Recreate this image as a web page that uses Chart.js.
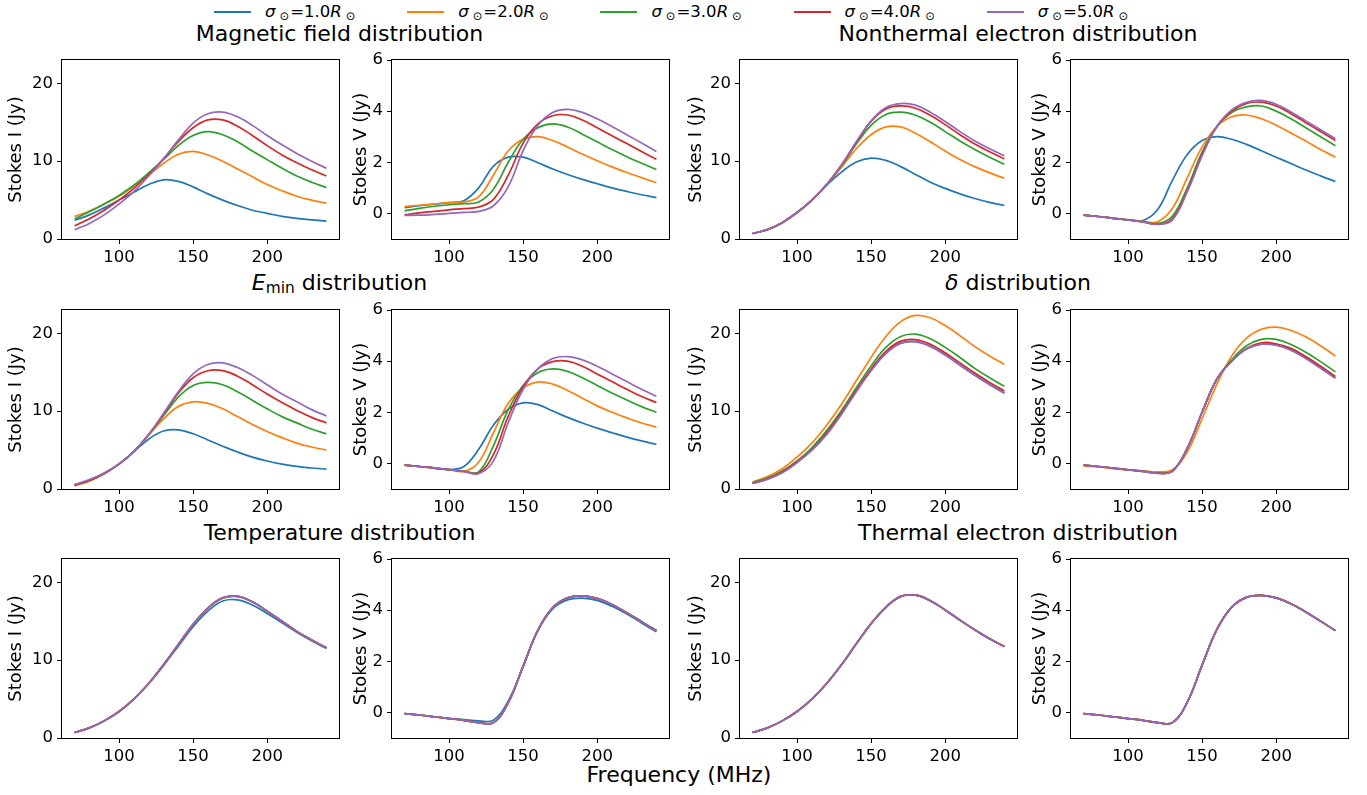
<!DOCTYPE html>
<html>
<head>
<meta charset="utf-8">
<script src="https://cdn.jsdelivr.net/npm/chart.js@4"></script>
<style>
html,body{margin:0;padding:0;background:#fff;}
body{width:1367px;height:795px;position:relative;overflow:hidden;font-family:"DejaVu Sans",sans-serif;color:#000;}
canvas{position:absolute;pointer-events:none;}
.txt{position:absolute;white-space:nowrap;line-height:1;color:#000;}
.ttl{font-size:22px;width:700px;text-align:center;}
.ttl sub{font-size:70%;vertical-align:-0.22em;line-height:0;}
.leg{font-size:16.5px;}
.leg sub{font-size:70%;vertical-align:-0.25em;line-height:0;margin:0 1px 0 4px;}
.legline{position:absolute;height:2px;width:37px;}
</style>
</head>
<body>
<script>
// ---------- data ----------
const freq = [70,80,90,100,110,120,130,140,150,160,170,180,190,200,210,220,230,240];
const sigmaLabels = ['1.0','2.0','3.0','4.0','5.0'];
const seriesColors = ['#1f77b4','#ff7f0e','#2ca02c','#d62728','#9467bd'];
const xTickValues = [100,150,200];
const iTickValues = [0,10,20];
const vTickValues = [0,2,4,6];

// Magnetic field distribution
const magneticI = [
  [2.4,3.1,4.0,5.0,6.0,7.0,7.6,7.4,6.7,5.8,5.0,4.3,3.7,3.3,2.9,2.65,2.45,2.3],
  [2.9,3.6,4.5,5.5,6.8,8.2,9.7,10.9,11.25,10.8,10.0,9.0,8.0,7.0,6.2,5.5,5.0,4.6],
  [2.6,3.5,4.5,5.6,6.9,8.5,10.2,12.0,13.3,13.8,13.4,12.5,11.3,10.2,9.1,8.1,7.3,6.6],
  [1.7,2.6,3.7,5.0,6.5,8.3,10.3,12.5,14.3,15.3,15.3,14.5,13.3,12.0,10.8,9.8,8.9,8.1],
  [1.2,2.0,3.1,4.5,6.1,8.1,10.3,12.7,14.9,16.1,16.3,15.7,14.6,13.3,12.1,11.0,10.0,9.1]
];
const magneticV = [
  [0.23,0.3,0.36,0.42,0.5,1.0,1.85,2.2,2.2,1.98,1.74,1.52,1.33,1.16,1.0,0.86,0.73,0.62],
  [0.27,0.32,0.37,0.42,0.45,0.65,1.5,2.45,2.9,3.0,2.85,2.6,2.32,2.06,1.82,1.6,1.4,1.2],
  [0.1,0.2,0.28,0.34,0.38,0.45,0.95,2.0,2.9,3.35,3.5,3.38,3.1,2.8,2.5,2.22,1.96,1.72],
  [-0.05,0.02,0.08,0.14,0.19,0.25,0.55,1.5,2.75,3.5,3.82,3.85,3.65,3.35,3.04,2.73,2.42,2.12],
  [-0.08,-0.07,-0.04,0.0,0.04,0.08,0.3,1.05,2.45,3.45,3.95,4.07,3.95,3.7,3.4,3.08,2.75,2.42]
];
// Nonthermal electron distribution
const nonthermalI = [
  [0.7,1.2,2.1,3.4,5.0,6.9,8.6,9.9,10.4,10.1,9.3,8.3,7.3,6.5,5.8,5.2,4.7,4.3],
  [0.7,1.2,2.1,3.4,5.0,7.0,9.2,11.6,13.4,14.4,14.4,13.6,12.5,11.3,10.2,9.3,8.5,7.8],
  [0.7,1.2,2.1,3.4,5.0,7.0,9.4,12.2,14.6,16.0,16.3,15.9,15.0,13.8,12.6,11.5,10.5,9.6],
  [0.7,1.2,2.1,3.4,5.0,7.0,9.5,12.4,15.1,16.7,17.1,16.8,15.9,14.7,13.4,12.2,11.2,10.3],
  [0.7,1.2,2.1,3.4,5.0,7.0,9.5,12.5,15.2,16.9,17.4,17.2,16.3,15.1,13.8,12.6,11.6,10.7]
];
const nonthermalV = [
  [-0.07,-0.12,-0.19,-0.25,-0.28,0.15,1.3,2.3,2.85,3.0,2.9,2.7,2.45,2.2,1.95,1.7,1.47,1.25],
  [-0.07,-0.12,-0.19,-0.25,-0.31,-0.33,0.2,1.4,2.6,3.4,3.78,3.85,3.7,3.45,3.15,2.83,2.5,2.2],
  [-0.07,-0.12,-0.19,-0.25,-0.32,-0.4,-0.1,1.0,2.4,3.4,3.95,4.17,4.2,4.0,3.7,3.35,3.0,2.65],
  [-0.07,-0.12,-0.19,-0.25,-0.33,-0.42,-0.2,0.9,2.3,3.4,4.0,4.3,4.35,4.2,3.9,3.55,3.2,2.85],
  [-0.07,-0.12,-0.19,-0.25,-0.33,-0.43,-0.25,0.85,2.25,3.4,4.05,4.35,4.42,4.27,3.97,3.62,3.27,2.93]
];
// E_min distribution
const eminI = [
  [0.5,1.1,2.0,3.2,4.8,6.4,7.45,7.6,7.1,6.3,5.5,4.75,4.1,3.6,3.2,2.9,2.7,2.55],
  [0.4,1.0,1.95,3.2,4.8,6.9,9.0,10.6,11.2,11.0,10.3,9.3,8.3,7.4,6.6,5.9,5.4,5.0],
  [0.5,1.1,2.0,3.2,4.8,7.0,9.4,11.8,13.3,13.7,13.4,12.5,11.4,10.3,9.3,8.5,7.7,7.1],
  [0.5,1.1,2.0,3.2,4.8,7.0,9.6,12.3,14.3,15.2,15.2,14.5,13.4,12.2,11.1,10.1,9.2,8.5],
  [0.6,1.2,2.05,3.25,4.8,7.0,9.7,12.5,14.8,16.0,16.2,15.6,14.6,13.4,12.2,11.2,10.2,9.4]
];
const eminV = [
  [-0.07,-0.12,-0.18,-0.24,-0.12,0.55,1.5,2.12,2.37,2.3,2.05,1.8,1.58,1.38,1.2,1.03,0.88,0.75],
  [-0.07,-0.12,-0.18,-0.24,-0.31,0.05,1.2,2.35,2.95,3.18,3.1,2.85,2.55,2.25,2.0,1.78,1.58,1.42],
  [-0.07,-0.12,-0.18,-0.24,-0.31,-0.33,0.7,2.1,3.05,3.55,3.7,3.6,3.35,3.05,2.75,2.48,2.22,2.0],
  [-0.07,-0.12,-0.18,-0.24,-0.31,-0.37,0.35,1.85,3.0,3.7,3.98,4.0,3.8,3.5,3.2,2.9,2.62,2.38],
  [-0.07,-0.12,-0.18,-0.24,-0.31,-0.4,0.1,1.6,2.9,3.7,4.1,4.18,4.05,3.8,3.5,3.2,2.9,2.63]
];
// delta distribution
const deltaI = [
  [0.72,1.27,2.12,3.42,5.02,7.05,9.65,12.55,15.25,17.45,18.75,18.95,18.35,17.25,15.95,14.65,13.45,12.35],
  [0.9,1.6,2.6,4.1,5.9,8.2,10.9,13.9,16.9,19.6,21.5,22.3,22.0,21.0,19.7,18.3,17.1,16.0],
  [0.8,1.4,2.3,3.6,5.3,7.5,10.1,13.0,15.8,18.2,19.6,19.9,19.3,18.2,16.9,15.5,14.3,13.2],
  [0.75,1.3,2.2,3.5,5.1,7.2,9.8,12.7,15.4,17.7,19.0,19.2,18.6,17.5,16.2,14.9,13.7,12.6],
  [0.7,1.25,2.1,3.4,5.0,7.0,9.6,12.5,15.2,17.4,18.7,18.9,18.3,17.2,15.9,14.6,13.4,12.3]
];
const deltaV = [
  [-0.07,-0.12,-0.18,-0.25,-0.31,-0.38,-0.3,0.6,2.0,3.3,4.0,4.47,4.66,4.63,4.44,4.12,3.74,3.35],
  [-0.1,-0.14,-0.2,-0.25,-0.29,-0.33,-0.25,0.45,1.75,3.1,4.2,4.9,5.25,5.33,5.2,4.95,4.6,4.2],
  [-0.07,-0.12,-0.18,-0.25,-0.3,-0.37,-0.3,0.6,2.0,3.3,4.05,4.6,4.85,4.85,4.65,4.35,3.98,3.58],
  [-0.07,-0.12,-0.18,-0.25,-0.31,-0.38,-0.3,0.6,2.0,3.3,4.0,4.5,4.72,4.68,4.5,4.18,3.8,3.4],
  [-0.07,-0.12,-0.18,-0.25,-0.31,-0.39,-0.31,0.6,2.0,3.3,4.0,4.48,4.66,4.62,4.43,4.1,3.72,3.33]
];
// Temperature distribution
const temperatureI = [
  [0.7,1.3,2.2,3.4,5.0,7.0,9.3,11.8,14.3,16.3,17.6,17.75,17.1,16.0,14.8,13.6,12.5,11.5],
  [0.7,1.3,2.2,3.4,5.0,7.0,9.4,12.0,14.6,16.7,18.0,18.2,17.5,16.3,15.0,13.7,12.6,11.6],
  [0.7,1.3,2.2,3.4,5.0,7.0,9.4,12.0,14.6,16.7,18.0,18.2,17.5,16.3,15.0,13.7,12.6,11.6],
  [0.7,1.3,2.2,3.4,5.0,7.0,9.4,12.0,14.6,16.7,18.0,18.2,17.5,16.3,15.0,13.7,12.6,11.6],
  [0.7,1.3,2.2,3.4,5.0,7.0,9.4,12.0,14.6,16.7,18.0,18.2,17.5,16.3,15.0,13.7,12.6,11.6]
];
const temperatureV = [
  [-0.05,-0.1,-0.17,-0.23,-0.28,-0.33,-0.3,0.45,1.8,3.2,4.05,4.4,4.47,4.38,4.15,3.85,3.5,3.15],
  [-0.05,-0.1,-0.17,-0.24,-0.31,-0.4,-0.4,0.38,1.8,3.22,4.1,4.48,4.56,4.46,4.22,3.9,3.55,3.2],
  [-0.05,-0.1,-0.17,-0.24,-0.31,-0.4,-0.4,0.38,1.8,3.22,4.1,4.48,4.56,4.46,4.22,3.9,3.55,3.2],
  [-0.05,-0.1,-0.17,-0.24,-0.31,-0.4,-0.4,0.38,1.8,3.22,4.1,4.48,4.56,4.46,4.22,3.9,3.55,3.2],
  [-0.05,-0.1,-0.17,-0.24,-0.31,-0.4,-0.4,0.38,1.8,3.22,4.1,4.48,4.56,4.46,4.22,3.9,3.55,3.2]
];
// Thermal electron distribution
const thermalI = [
  [0.7,1.3,2.2,3.4,5.0,7.0,9.4,12.1,14.7,16.8,18.2,18.35,17.65,16.45,15.15,13.9,12.75,11.75],
  [0.7,1.3,2.2,3.4,5.0,7.0,9.4,12.1,14.7,16.8,18.2,18.35,17.65,16.45,15.15,13.9,12.75,11.75],
  [0.7,1.3,2.2,3.4,5.0,7.0,9.4,12.1,14.7,16.8,18.2,18.35,17.65,16.45,15.15,13.9,12.75,11.75],
  [0.7,1.3,2.2,3.4,5.0,7.0,9.4,12.1,14.7,16.8,18.2,18.35,17.65,16.45,15.15,13.9,12.75,11.75],
  [0.7,1.3,2.2,3.4,5.0,7.0,9.4,12.1,14.7,16.8,18.2,18.35,17.65,16.45,15.15,13.9,12.75,11.75]
];
const thermalV = [
  [-0.05,-0.1,-0.17,-0.24,-0.31,-0.4,-0.4,0.4,1.85,3.25,4.12,4.5,4.58,4.48,4.25,3.93,3.57,3.2],
  [-0.05,-0.1,-0.17,-0.24,-0.31,-0.4,-0.4,0.4,1.85,3.25,4.12,4.5,4.58,4.48,4.25,3.93,3.57,3.2],
  [-0.05,-0.1,-0.17,-0.24,-0.31,-0.4,-0.4,0.4,1.85,3.25,4.12,4.5,4.58,4.48,4.25,3.93,3.57,3.2],
  [-0.05,-0.1,-0.17,-0.24,-0.31,-0.4,-0.4,0.4,1.85,3.25,4.12,4.5,4.58,4.48,4.25,3.93,3.57,3.2],
  [-0.05,-0.1,-0.17,-0.24,-0.31,-0.4,-0.4,0.4,1.85,3.25,4.12,4.5,4.58,4.48,4.25,3.93,3.57,3.2]
];

const rowTitles = [
  ['Magnetic field distribution', 'Nonthermal electron distribution'],
  ['<i>E</i><sub>min</sub> distribution', '<i>δ</i> distribution'],
  ['Temperature distribution', 'Thermal electron distribution']
];
const panelData = [
  [magneticI, magneticV, nonthermalI, nonthermalV],
  [eminI, eminV, deltaI, deltaV],
  [temperatureI, temperatureV, thermalI, thermalV]
];

// ---------- layout ----------
const colL = [62, 392, 740, 1071];
const colR = [339, 669, 1017, 1348];
const rowT = [60, 310, 559];
const rowB = [239, 489, 738];
const axisW = [60, 45, 58, 45];
const titleCx = [339.5, 1018];
const titleBaseline = [41.5, 291, 540.5];

Chart.defaults.font.family = '"DejaVu Sans", sans-serif';
Chart.defaults.color = '#000';

const framePlugin = {
  id: 'frame',
  afterDraw(chart) {
    const a = chart.chartArea, ctx = chart.ctx;
    ctx.save();
    ctx.strokeStyle = '#000';
    ctx.lineWidth = 1;
    ctx.strokeRect(Math.round(a.left) - 0.5, Math.round(a.top) - 0.5, Math.round(a.right - a.left) + 1, Math.round(a.bottom - a.top) + 1);
    ctx.restore();
  }
};

function addText(html, cls, left, top) {
  const d = document.createElement('div');
  d.className = 'txt ' + cls;
  d.innerHTML = html;
  d.style.left = left + 'px';
  d.style.top = top + 'px';
  document.body.appendChild(d);
  return d;
}

// legend
sigmaLabels.forEach((s, i) => {
  const x0 = 214 + i * 193.2;
  const ln = document.createElement('div');
  ln.className = 'legline';
  ln.style.left = x0 + 'px';
  ln.style.top = '11px';
  ln.style.background = seriesColors[i];
  document.body.appendChild(ln);
  addText('<i>σ</i><sub>⊙</sub>=' + s + '<i>R</i><sub>⊙</sub>', 'leg', x0 + 51, 18 - 14);
});

// row titles
rowTitles.forEach((pair, r) => {
  pair.forEach((t, k) => {
    addText(t, 'ttl', titleCx[k] - 350, titleBaseline[r] - 18.6);
  });
});
// x label
addText('Frequency (MHz)', 'ttl', 679 - 350, 783 - 18.6);

// panels
const padT = 14, padR = 14, xH = 32;
panelData.forEach((row, r) => {
  row.forEach((series, c) => {
    const isI = (c % 2 === 0);
    const L = colL[c], R = colR[c], T = rowT[r], B = rowB[r], w = axisW[c];
    const W = w + (R - L) + padR, H = padT + (B - T) + xH;
    const cv = document.createElement('canvas');
    cv.width = W; cv.height = H;
    cv.style.left = (L - w) + 'px';
    cv.style.top = (T - padT) + 'px';
    cv.style.width = W + 'px';
    cv.style.height = H + 'px';
    document.body.appendChild(cv);
    new Chart(cv, {
      type: 'line',
      data: {
        datasets: series.map((vals, i) => ({
          label: 'σ=' + sigmaLabels[i] + 'R',
          data: freq.map((f, j) => ({x: f, y: vals[j]})),
          borderColor: seriesColors[i],
          backgroundColor: seriesColors[i],
          borderWidth: 1.7,
          pointRadius: 0,
          tension: 0.4,
          fill: false,
          order: series.length - i
        }))
      },
      options: {
        responsive: false,
        animation: false,
        devicePixelRatio: 1,
        events: [],
        layout: {padding: {left: 0, top: padT, right: padR, bottom: 0}},
        plugins: {legend: {display: false}, tooltip: {enabled: false}, title: {display: false}},
        scales: {
          x: {
            type: 'linear', min: 61.5, max: 248.5,
            afterBuildTicks: s => { s.ticks = xTickValues.map(v => ({value: v})); },
            afterFit: s => { s.height = xH; },
            grid: {display: true, drawOnChartArea: false, drawTicks: true, tickLength: 5, color: '#000', lineWidth: 1},
            border: {display: false},
            ticks: {font: {size: 16.5}, color: '#000', padding: 4, maxRotation: 0, autoSkip: false}
          },
          y: {
            type: 'linear', min: isI ? 0 : -1, max: isI ? 23 : 6,
            afterBuildTicks: s => { s.ticks = (isI ? iTickValues : vTickValues).map(v => ({value: v})); },
            afterFit: s => { s.width = w; },
            grid: {display: true, drawOnChartArea: false, drawTicks: true, tickLength: 5, color: '#000', lineWidth: 1},
            border: {display: false},
            ticks: {font: {size: 16.5}, color: '#000', padding: 4, autoSkip: false},
            title: {display: true, text: isI ? 'Stokes I (Jy)' : 'Stokes V (Jy)', font: {size: 18}, color: '#000', padding: {top: 4, bottom: 4}}
          }
        }
      },
      plugins: [framePlugin]
    });
  });
});
</script>
</body>
</html>
